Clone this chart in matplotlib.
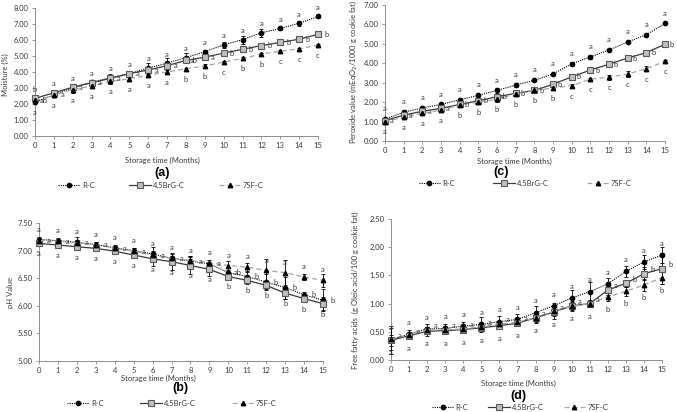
import matplotlib
matplotlib.use("Agg")
import matplotlib.pyplot as plt
from matplotlib.ticker import FormatStrFormatter

months = list(range(16))
series_names = ["R-C", "4.5BrG-C", "7SF-C"]

# (a) Moisture (%)
moist_rc = [2.10, 2.57, 3.02, 3.35, 3.65, 3.90, 4.25, 4.55, 4.90, 5.27, 5.70, 6.02, 6.45, 6.72, 7.05, 7.47]
moist_brg = [2.35, 2.70, 3.05, 3.33, 3.60, 3.90, 4.12, 4.40, 4.72, 4.93, 5.18, 5.42, 5.65, 5.85, 6.05, 6.35]
moist_sf = [2.22, 2.55, 2.90, 3.13, 3.42, 3.58, 3.80, 4.00, 4.20, 4.38, 4.62, 4.85, 5.12, 5.30, 5.45, 5.68]
moist_rc_err = [0.05, 0.08, 0.10, 0.10, 0.20, 0.15, 0.30, 0.30, 0.30, 0.10, 0.20, 0.25, 0.25, 0.10, 0.15, 0.08]
moist_brg_err = [0.05, 0.05, 0.08, 0.08, 0.10, 0.08, 0.10, 0.10, 0.10, 0.08, 0.08, 0.20, 0.10, 0.15, 0.10, 0.05]
moist_sf_err = [0.08, 0.08, 0.20, 0.08, 0.20, 0.15, 0.10, 0.10, 0.08, 0.12, 0.08, 0.08, 0.08, 0.08, 0.08, 0.05]
moist_rc_let = ["a"] * 16
moist_brg_let = ["b", "a", "a", "a", "a", "a", "a", "a", "ab", "a", "b", "b", "b", "b", "b", "b"]
moist_sf_let = ["ab", "a", "a", "a", "a", "a", "a", "a", "b", "b", "c", "b", "b", "c", "c", "c"]

# (c) Peroxide value
pv_rc = [1.12, 1.48, 1.70, 1.88, 2.12, 2.35, 2.60, 2.88, 3.12, 3.45, 3.97, 4.33, 4.68, 5.10, 5.47, 6.05]
pv_brg = [1.05, 1.33, 1.53, 1.68, 1.88, 2.07, 2.28, 2.45, 2.60, 2.92, 3.30, 3.65, 3.95, 4.27, 4.55, 4.98]
pv_sf = [1.00, 1.22, 1.43, 1.58, 1.85, 2.00, 2.15, 2.44, 2.62, 2.72, 2.85, 3.18, 3.28, 3.45, 3.72, 4.10]
pv_rc_err = [0.08, 0.12, 0.12, 0.08, 0.08, 0.06, 0.15, 0.12, 0.05, 0.05, 0.10, 0.10, 0.05, 0.08, 0.05, 0.05]
pv_brg_err = [0.05, 0.08, 0.08, 0.05, 0.05, 0.05, 0.10, 0.08, 0.05, 0.08, 0.05, 0.05, 0.05, 0.05, 0.05, 0.05]
pv_sf_err = [0.05, 0.08, 0.08, 0.05, 0.05, 0.08, 0.12, 0.06, 0.05, 0.10, 0.08, 0.05, 0.12, 0.15, 0.12, 0.05]
pv_rc_let = ["a"] * 16
pv_brg_let = ["a", "a", "a", "a", "b", "b", "ab", "b", "b", "b", "b", "b", "b", "b", "b", "b"]
pv_sf_let = ["a", "a", "a", "a", "b", "b", "b", "b", "b", "b", "c", "c", "c", "c", "c", "c"]

# (b) pH value
ph_rc = [7.20, 7.18, 7.15, 7.11, 7.05, 7.00, 6.94, 6.86, 6.81, 6.76, 6.60, 6.53, 6.43, 6.33, 6.20, 6.10]
ph_brg = [7.13, 7.10, 7.07, 7.04, 6.99, 6.92, 6.85, 6.80, 6.73, 6.66, 6.53, 6.46, 6.37, 6.23, 6.13, 6.04]
ph_sf = [7.18, 7.17, 7.14, 7.11, 7.04, 6.99, 6.92, 6.86, 6.82, 6.78, 6.73, 6.70, 6.64, 6.60, 6.52, 6.46]
ph_rc_err = [0.04, 0.04, 0.05, 0.05, 0.05, 0.05, 0.12, 0.08, 0.10, 0.04, 0.08, 0.10, 0.15, 0.20, 0.05, 0.20]
ph_brg_err = [0.04, 0.03, 0.05, 0.04, 0.05, 0.06, 0.12, 0.15, 0.15, 0.12, 0.05, 0.06, 0.06, 0.10, 0.05, 0.12]
ph_sf_err = [0.04, 0.04, 0.10, 0.04, 0.05, 0.05, 0.08, 0.05, 0.08, 0.05, 0.08, 0.08, 0.20, 0.23, 0.05, 0.12]
ph_rc_let = ["a"] * 10 + ["ab", "b", "b", "b", "b", "b"]
ph_brg_let = ["a"] * 10 + ["b"] * 6
ph_sf_let = ["a"] * 16

# (d) Free fatty acids
ffa_rc = [0.36, 0.46, 0.55, 0.56, 0.60, 0.63, 0.68, 0.72, 0.84, 0.96, 1.10, 1.21, 1.35, 1.57, 1.74, 1.86]
ffa_brg = [0.35, 0.43, 0.51, 0.52, 0.54, 0.57, 0.61, 0.65, 0.75, 0.85, 0.96, 1.00, 1.24, 1.36, 1.53, 1.62]
ffa_sf = [0.37, 0.44, 0.53, 0.54, 0.55, 0.59, 0.64, 0.67, 0.75, 0.86, 0.95, 1.00, 1.12, 1.22, 1.33, 1.46]
ffa_rc_err = [0.25, 0.08, 0.08, 0.08, 0.08, 0.13, 0.10, 0.10, 0.12, 0.05, 0.15, 0.18, 0.10, 0.10, 0.13, 0.14]
ffa_brg_err = [0.10, 0.05, 0.08, 0.06, 0.06, 0.05, 0.06, 0.05, 0.10, 0.12, 0.08, 0.05, 0.08, 0.06, 0.12, 0.28]
ffa_sf_err = [0.20, 0.06, 0.06, 0.06, 0.06, 0.05, 0.05, 0.05, 0.08, 0.08, 0.08, 0.06, 0.08, 0.08, 0.10, 0.12]
ffa_rc_let = ["a"] * 16
ffa_brg_let = ["a"] * 13 + ["b", "b", "b"]
ffa_sf_let = ["a"] * 12 + ["b", "b", "b", "b"]

plt.rcParams["font.family"] = ["Lato", "DejaVu Sans"]
FS = 5.5
AXIS_COLOR = "#8c8c8c"
TEXT_COLOR = "#3a3a3a"

STYLES = [
    dict(color="black", linestyle=(0, (1, 1)), linewidth=0.8, marker="o", markersize=3.1,
         markerfacecolor="black", markeredgecolor="black"),
    dict(color="#3a3a3a", linestyle="-", linewidth=0.9, marker="s", markersize=3.9,
         markerfacecolor="#bfbfbf", markeredgecolor="#595959", markeredgewidth=0.8),
    dict(color="#a6a6a6", linestyle=(0, (4, 2.5)), linewidth=0.9, marker="^", markersize=3.2,
         markerfacecolor="black", markeredgecolor="black"),
]


def draw_panel(ax, vals, errs, letters, ylim, ystep, offsets):
    handles = []
    for v, e, st, name in zip(vals, errs, STYLES, series_names):
        ax.errorbar(months, v, yerr=e, fmt="none", ecolor="black", elinewidth=0.6,
                    capsize=1.6, capthick=0.6, zorder=3, clip_on=False)
        (ln,) = ax.plot(months, v, label=name, zorder=4, clip_on=False, **st)
        handles.append(ln)

    # letters: top series above, middle to the right, bottom below
    modes = ["top", "right", "bottom"]
    for i in range(len(months)):
        order = sorted(range(3), key=lambda k: vals[k][i], reverse=True)
        for rank, k in enumerate(order):
            dx, dy = offsets[modes[rank]]
            ax.annotate(letters[k][i], (months[i], vals[k][i]), xytext=(dx, dy),
                        textcoords="offset points", ha="center", va="center",
                        fontsize=FS, color=TEXT_COLOR, zorder=5)

    ax.set_xlim(0, 15)
    ax.set_ylim(*ylim)
    ax.set_xticks(months)
    n = int(round((ylim[1] - ylim[0]) / ystep))
    ax.set_yticks([ylim[0] + ystep * j for j in range(n + 1)])
    ax.yaxis.set_major_formatter(FormatStrFormatter("%.2f"))
    ax.tick_params(labelsize=FS, length=2.5, width=0.6, color=AXIS_COLOR, pad=2,
                   labelcolor=TEXT_COLOR)
    for s in ["top", "right"]:
        ax.spines[s].set_visible(False)
    for s in ["left", "bottom"]:
        ax.spines[s].set_color(AXIS_COLOR)
        ax.spines[s].set_linewidth(0.7)
    return handles


fig = plt.figure(figsize=(6.77, 4.12), dpi=100)
W, H = 677.0, 412.0


def add_axes(l, r, t, b):
    return fig.add_axes([l / W, 1 - b / H, (r - l) / W, (b - t) / H])


ax_a = add_axes(35, 318, 8, 136)
ax_c = add_axes(385, 665, 5, 141)
ax_b = add_axes(39, 323, 223, 361)
ax_d = add_axes(391, 662, 219, 360)

h = draw_panel(ax_a, [moist_rc, moist_brg, moist_sf], [moist_rc_err, moist_brg_err, moist_sf_err],
               [moist_rc_let, moist_brg_let, moist_sf_let], (0, 8), 1.0,
               {"top": (0, 6.5), "right": (6, 0), "bottom": (0, -7.5)})
draw_panel(ax_c, [pv_rc, pv_brg, pv_sf], [pv_rc_err, pv_brg_err, pv_sf_err],
           [pv_rc_let, pv_brg_let, pv_sf_let], (0, 7), 1.0,
           {"top": (0, 7.5), "right": (5, 0), "bottom": (0, -7.5)})
draw_panel(ax_b, [ph_rc, ph_brg, ph_sf], [ph_rc_err, ph_brg_err, ph_sf_err],
           [ph_rc_let, ph_brg_let, ph_sf_let], (5, 7.5), 0.5,
           {"top": (0, 7.5), "right": (7, 0), "bottom": (0, -7.5)})
draw_panel(ax_d, [ffa_rc, ffa_brg, ffa_sf], [ffa_rc_err, ffa_brg_err, ffa_sf_err],
           [ffa_rc_let, ffa_brg_let, ffa_sf_let], (0, 2.5), 0.5,
           {"top": (0, 8.5), "right": (6, 3), "bottom": (0, -9)})

# y labels
fig.text(5 / W, 1 - 75 / H, "Moisture (%)", rotation=90, ha="center", va="center",
         fontsize=FS, color=TEXT_COLOR)
fig.text(353 / W, 1 - 72 / H, "Peroxide value (mEqO$_2$/1000 g cookie fat)", rotation=90,
         ha="center", va="center", fontsize=FS, color=TEXT_COLOR)
fig.text(10 / W, 1 - 293 / H, "pH Value", rotation=90, ha="center", va="center",
         fontsize=FS, color=TEXT_COLOR)
fig.text(355 / W, 1 - 290 / H, "Free fatty acids  (g Oleic acid/100 g cookie fat)", rotation=90,
         ha="center", va="center", fontsize=FS, color=TEXT_COLOR)

# x labels
for x, y in [(162, 160), (514, 161), (158, 378), (518, 383)]:
    fig.text(x / W, 1 - y / H, "Storage time (Months)", ha="center", va="center",
             fontsize=FS, color=TEXT_COLOR)

# panel tags
for x, y, tag in [(162, 173, "(a)"), (501, 172, "(c)"), (180, 388, "(b)"), (518, 396, "(d)")]:
    fig.text(x / W, 1 - y / H, tag, ha="center", va="center", fontsize=9, fontweight="bold",
             family="Liberation Sans")

# legends
for x, y, cs in [(161, 185, 4.5), (525, 183, 5.0), (172, 403, 4.8), (520, 407, 2.6)]:
    leg = fig.legend(handles=h, loc="center", bbox_to_anchor=(x / W, 1 - y / H), ncol=3,
                     frameon=False, fontsize=FS, handlelength=2.8, handletextpad=0.3,
                     columnspacing=cs, borderpad=0, borderaxespad=0)
    for t in leg.get_texts():
        t.set_color(TEXT_COLOR)

fig.savefig("out.png", dpi=100)
